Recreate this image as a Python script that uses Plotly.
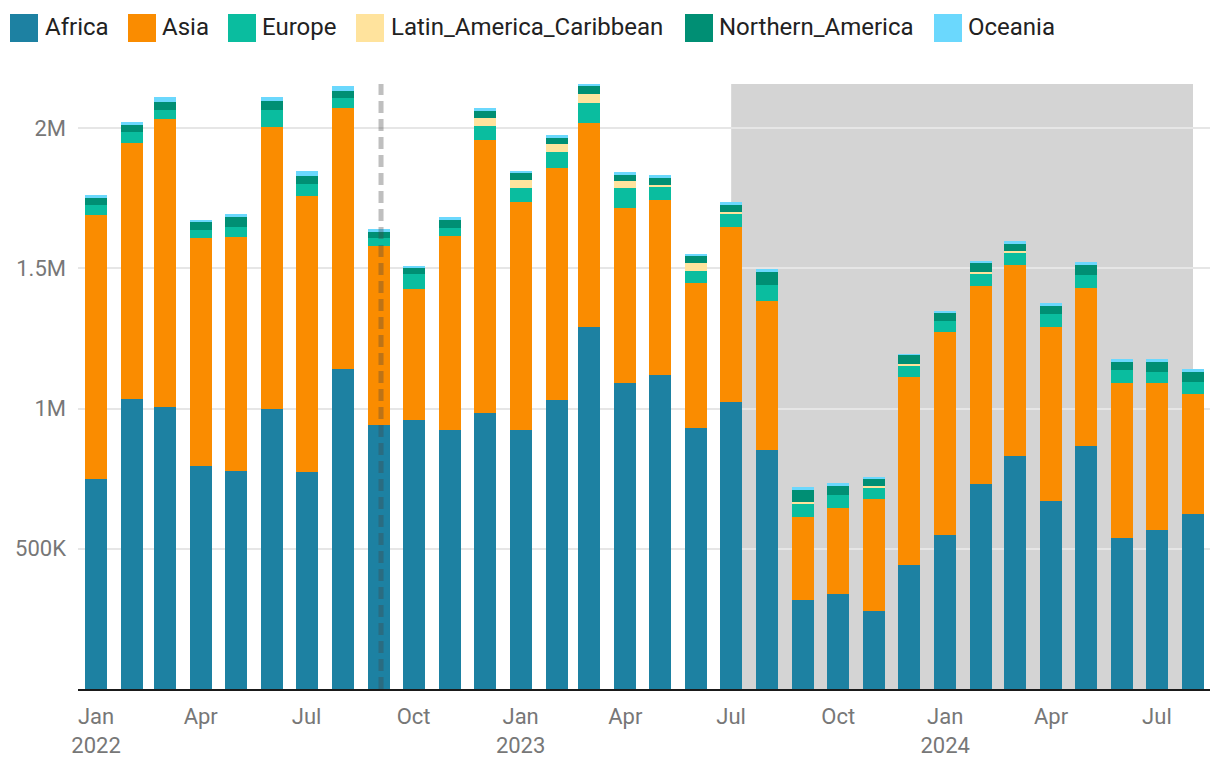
import plotly.graph_objects as go

months = ["2022-01-01", "2022-02-01", "2022-03-01", "2022-04-01", "2022-05-01", "2022-06-01",
          "2022-07-01", "2022-08-01", "2022-09-01", "2022-10-01", "2022-11-01", "2022-12-01",
          "2023-01-01", "2023-02-01", "2023-03-01", "2023-04-01", "2023-05-01", "2023-06-01",
          "2023-07-01", "2023-08-01", "2023-09-01", "2023-10-01", "2023-11-01", "2023-12-01",
          "2024-01-01", "2024-02-01", "2024-03-01", "2024-04-01", "2024-05-01", "2024-06-01",
          "2024-07-01", "2024-08-01"]

africa = [749000, 1034000, 1005000, 795000, 777000, 998000, 774000, 1141000, 941000, 959000, 923000, 984000,
          923000, 1030000, 1291000, 1091000, 1119000, 930000, 1023000, 852000, 317000, 339000, 278000, 442000,
          549000, 731000, 831000, 670000, 866000, 538000, 567000, 624000]
asia = [941000, 913000, 1027000, 814000, 834000, 1006000, 985000, 930000, 639000, 467000, 692000, 973000,
        813000, 827000, 727000, 624000, 624000, 517000, 624000, 531000, 296000, 306000, 399000, 670000,
        724000, 706000, 681000, 621000, 564000, 553000, 524000, 428000]
europe = [35000, 39000, 32000, 27000, 36000, 60000, 41000, 36000, 28000, 53000, 28000, 50000,
          50000, 57000, 71000, 71000, 50000, 43000, 50000, 57000, 50000, 47000, 43000, 43000,
          39000, 43000, 46000, 46000, 46000, 46000, 39000, 42000]
latin = [0, 0, 0, 0, 0, 0, 0, 0, 0, 0, 0, 29000,
         28000, 29000, 32000, 25000, 4000, 29000, 3000, 0, 4000, 0, 4000, 4000,
         0, 7000, 3000, 0, 0, 0, 0, 0]
n_america = [25000, 25000, 29000, 29000, 36000, 32000, 29000, 25000, 23000, 22000, 29000, 28000,
             28000, 25000, 29000, 25000, 28000, 24000, 29000, 47000, 42000, 35000, 28000, 32000,
             28000, 35000, 29000, 32000, 39000, 32000, 39000, 36000]
oceania = [11000, 10000, 17000, 7000, 10000, 14000, 18000, 18000, 9000, 7000, 11000, 7000,
           4000, 7000, 7000, 7000, 7000, 8000, 7000, 10000, 11000, 7000, 4000, 3000,
           8000, 4000, 7000, 7000, 7000, 7000, 7000, 11000]

series_names = ["Africa", "Asia", "Europe", "Latin_America_Caribbean", "Northern_America", "Oceania"]
series_values = [africa, asia, europe, latin, n_america, oceania]
series_colors = ["#1d81a2", "#fa8c00", "#0abd9f", "#ffe39d", "#008f74", "#6bd8fd"]

x_tickvals = ["2022-01-01", "2022-04-01", "2022-07-01", "2022-10-01", "2023-01-01", "2023-04-01",
              "2023-07-01", "2023-10-01", "2024-01-01", "2024-04-01", "2024-07-01"]
x_ticktext = ["Jan<br>2022", "Apr", "Jul", "Oct", "Jan<br>2023", "Apr", "Jul", "Oct", "Jan<br>2024", "Apr", "Jul"]
y_tickvals = [500000, 1000000, 1500000, 2000000]
y_ticktext = ["500K", "1M", "1.5M", "2M"]

W, H = 1220, 778
L, R, T, B = 78, 10, 84, 89
PW, PH = W - L - R, H - T - B


def px_x(p):
    return (p - L) / PW


def px_y(p):
    return (H - B - p) / PH


fig = go.Figure()
bar_width_ms = 18.9 * 86400000
for name, vals, col in zip(series_names, series_values, series_colors):
    fig.add_trace(go.Bar(x=months, y=vals, name=name, marker=dict(color=col, line=dict(width=0)),
                         width=bar_width_ms, showlegend=False))

shapes = [
    dict(type="rect", xref="x", yref="paper", x0="2023-07-01", x1="2024-08-01", y0=0, y1=1,
         fillcolor="#d4d4d4", line=dict(width=0), layer="below"),
    dict(type="line", xref="x", yref="paper", x0="2022-09-03", x1="2022-09-03", y0=0, y1=1,
         line=dict(color="rgba(68,68,68,0.34)", width=5, dash="12px,6px"), layer="above"),
]
annotations = []
legend_sq = [10, 128, 228, 356, 685, 934]
legend_tx = [43, 160, 260, 389, 717, 966]
for name, col, sx, tx in zip(series_names, series_colors, legend_sq, legend_tx):
    shapes.append(dict(type="rect", xref="paper", yref="paper", x0=px_x(sx), x1=px_x(sx + 28),
                       y0=px_y(42), y1=px_y(14), fillcolor=col, line=dict(width=0), layer="above"))
    annotations.append(dict(xref="paper", yref="paper", x=px_x(tx), y=px_y(27), xanchor="left",
                            yanchor="middle", text=name, showarrow=False,
                            font=dict(family="Roboto", size=24, color="#222222")))

fig.update_layout(
    width=W, height=H, barmode="stack", bargap=0,
    margin=dict(l=L, r=R, t=T, b=B, pad=0),
    paper_bgcolor="white", plot_bgcolor="white",
    font=dict(family="Roboto", size=22, color="#777777"),
    shapes=shapes, annotations=annotations,
    xaxis=dict(type="date", range=["2021-12-16 12:00", "2024-08-15 15:00"],
               tickvals=x_tickvals, ticktext=x_ticktext, showgrid=False,
               showline=True, linecolor="#1a1a1a", linewidth=2, ticks="",
               ticklabelstandoff=7, tickfont=dict(size=22, color="#777777"), zeroline=False),
    yaxis=dict(range=[0, 2157000], tickvals=y_tickvals, ticktext=y_ticktext,
               showgrid=True, gridcolor="#e6e6e6", gridwidth=2, zeroline=False,
               ticks="", ticklabelstandoff=11, tickfont=dict(size=22, color="#777777"),
               showline=False),
)

fig.write_html("out.html")
